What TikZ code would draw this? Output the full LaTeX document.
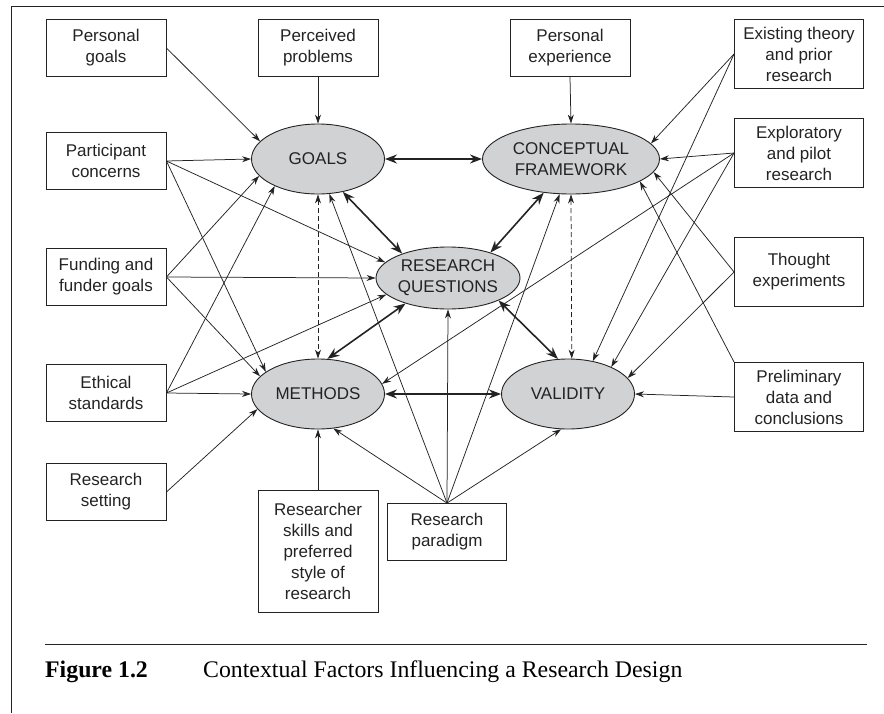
\documentclass[tikz,border=0pt]{standalone}
\usepackage{fontspec}
\setmainfont{Liberation Serif}
\newfontfamily\boxfont{Liberation Sans}
\usetikzlibrary{arrows.meta,shapes.geometric}
\definecolor{ovalgray}{RGB}{209,210,212}
\definecolor{inkgray}{RGB}{35,35,35}
\begin{document}
\begin{tikzpicture}[x=1pt,y=-1pt,
    box/.style={draw=inkgray,line width=0.9pt,minimum width=120pt,minimum height=57pt,inner sep=0pt,align=center,text=inkgray,font=\boxfont\fontsize{17}{21}\selectfont},
    tallbox/.style={box,minimum height=69pt},
    oval/.style={ellipse,draw=inkgray,fill=ovalgray,line width=0.9pt,minimum width=133pt,minimum height=70pt,inner sep=0pt,align=center,text=inkgray,font=\boxfont\fontsize{17}{21}\selectfont},
    infl/.style={draw=inkgray,line width=0.75pt,-{Stealth[length=9pt,width=6pt]}},
    twoway/.style={draw=inkgray,line width=1.6pt,{Stealth[length=12pt,width=9pt]}-{Stealth[length=12pt,width=9pt]}},
    loose/.style={draw=inkgray,line width=0.75pt,dash pattern=on 5pt off 3pt,{Stealth[length=9pt,width=6pt]}-{Stealth[length=9pt,width=6pt]}}]

    \useasboundingbox (0,0) rectangle (884,713);

    \draw[line width=1pt,inkgray] (11,713) -- (11,6) -- (884,6);

    \node[oval] (goals) at (318,159) {GOALS};
    \node[oval,minimum width=177pt] (cf) at (571,159) {CONCEPTUAL\\FRAMEWORK};
    \node[oval,minimum width=144pt,minimum height=62pt] (rq) at (448,278) {RESEARCH\\QUESTIONS};
    \node[oval] (meth) at (318,394) {METHODS};
    \node[oval] (val) at (568,394) {VALIDITY};

    \node[box] (pgoals) at (106,48) {Personal\\goals};
    \node[box] (partc) at (106,161) {Participant\\concerns};
    \node[box] (fund) at (106,277) {Funding and\\funder goals};
    \node[box] (ethic) at (106,393) {Ethical\\standards};
    \node[box] (setting) at (106,492) {Research\\setting};
    \node[box] (pprob) at (318,48) {Perceived\\problems};
    \node[box] (pexp) at (570,48) {Personal\\experience};
    \node[box,minimum height=122pt] (skills) at (318,551) {Researcher\\skills and\\preferred\\style of\\research};
    \node[box,minimum width=119pt] (parad) at (447,532) {Research\\paradigm};
    \node[tallbox,minimum width=129pt] (theory) at (799,54) {Existing theory\\and prior\\research};
    \node[tallbox,minimum width=129pt] (explor) at (799,153) {Exploratory\\and pilot\\research};
    \node[tallbox,minimum width=129pt] (thought) at (799,272) {Thought\\experiments};
    \node[tallbox,minimum width=129pt] (prelim) at (799,397) {Preliminary\\data and\\conclusions};

    \draw[infl] (pgoals.east) -- (goals.163);
    \draw[infl] (pprob.south) -- (goals.north);
    \draw[infl] (pexp.south) -- (cf.north);

    \draw[infl] (partc.east) -- (goals.west);
    \draw[infl] (partc.east) -- (rq.166);
    \draw[infl] (partc.east) -- (meth.157);
    \draw[infl] (fund.east) -- (goals.196);
    \draw[infl] (fund.east) -- (rq.west);
    \draw[infl] (fund.east) -- (meth.163);
    \draw[infl] (ethic.east) -- (goals.212);
    \draw[infl] (ethic.east) -- (rq.195);
    \draw[infl] (ethic.east) -- (meth.west);
    \draw[infl] (setting.east) -- (meth.194);
    \draw[infl] (skills.north) -- (meth.south);

    \draw[infl] (parad.north) -- (meth.294);
    \draw[infl] (parad.north) -- (goals.288);
    \draw[infl] (parad.north) -- (rq.south);
    \draw[infl] (parad.north) -- (cf.252);
    \draw[infl] (parad.north) -- (val.259);

    \draw[infl] (theory.west) -- (cf.11);
    \draw[infl] (theory.west) -- (val.53);
    \draw[infl] (explor.west) -- (cf.east);
    \draw[infl] (explor.west) -- (meth.9);
    \draw[infl] (explor.west) -- (val.32);
    \draw[infl] (thought.west) -- (cf.351);
    \draw[infl] (thought.west) -- (val.15);
    \draw[infl] (prelim.north west) -- (cf.342);
    \draw[infl] (prelim.west) -- (val.east);

    \draw[twoway] (goals.east) -- (cf.west);
    \draw[twoway] (goals.307) -- (rq.152);
    \draw[twoway] (cf.231) -- (rq.31);
    \draw[twoway] (meth.75) -- (rq.211);
    \draw[twoway] (rq.336) -- (val.106);
    \draw[twoway] (meth.east) -- (val.west);
    \draw[loose] (goals.south) -- (meth.north);
    \draw[loose] (cf.south) -- (val.84);

    \draw[line width=1pt,inkgray] (45,644) -- (867,644);
    \node[anchor=base west,inner sep=0pt,font=\fontsize{23.8}{28}\selectfont\bfseries] (fignum) at (45,677) {Figure 1.2};
    \node[anchor=base west,inner sep=0pt,font=\fontsize{23.8}{28}\selectfont] (figcap) at (203,677) {Contextual Factors Influencing a Research Design};
\end{tikzpicture}
\end{document}
